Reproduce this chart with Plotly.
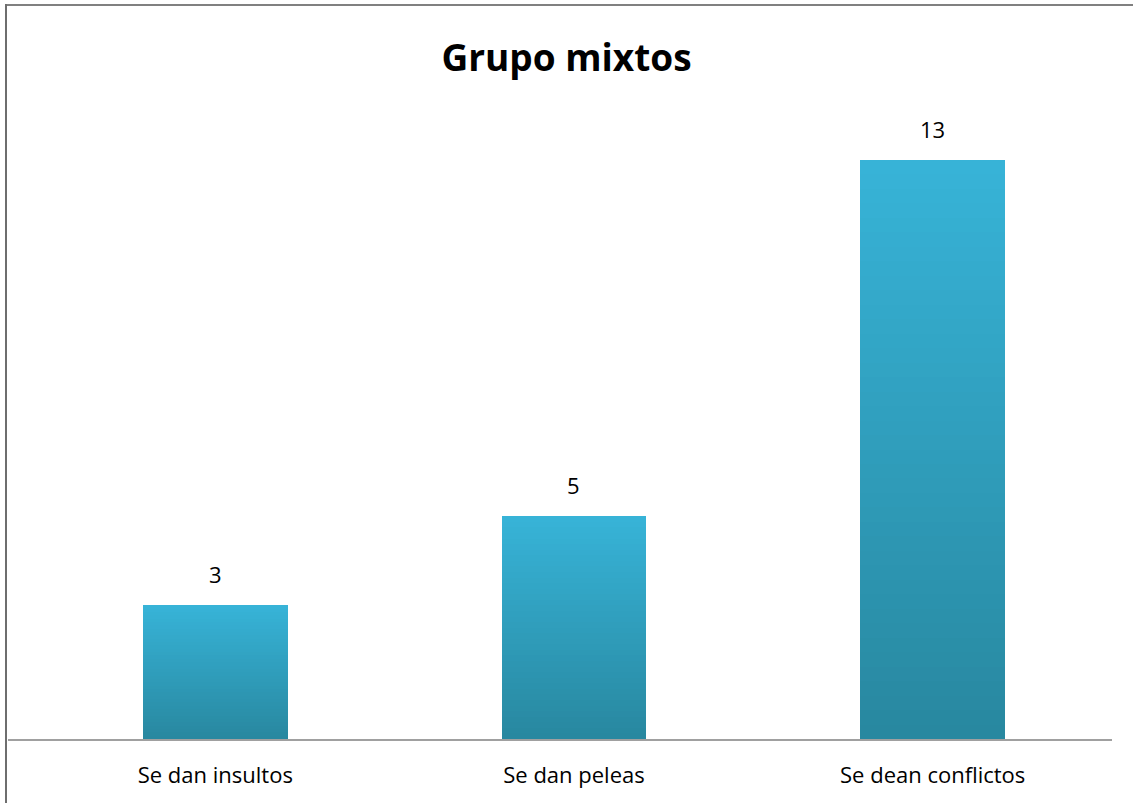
import plotly.graph_objects as go

categories = ["Se dan insultos", "Se dan peleas", "Se dean conflictos"]
values = [3, 5, 13]
title_text = "Grupo mixtos"

top_rgb = (55, 179, 215)
bottom_rgb = (40, 136, 160)
N = 40
FONT = "Open Sans, Lato, sans-serif"

fig = go.Figure()
for i in range(N):
    t = i / (N - 1)  # 0 bottom -> 1 top
    c = tuple(round(bottom_rgb[k] + (top_rgb[k] - bottom_rgb[k]) * t) for k in range(3))
    fig.add_trace(go.Bar(
        x=categories, y=[v / N for v in values],
        marker=dict(color=f"rgb{c}", line=dict(width=0)),
        width=0.404, showlegend=False, hoverinfo="skip",
    ))

annotations = [
    dict(x=cat, y=v, xref="x", yref="y", text=str(v), showarrow=False,
         yanchor="bottom", yshift=14, font=dict(size=22, color="#000000", family=FONT))
    for cat, v in zip(categories, values)
]

plot_top = 100
plot_bottom = 739
ph = plot_bottom - plot_top
px_per_unit = (739 - 160) / 13.0
ymax = ph / px_per_unit

fig.update_layout(
    width=1133, height=803,
    barmode="stack", bargap=0,
    paper_bgcolor="white", plot_bgcolor="white",
    margin=dict(l=8, r=21, t=plot_top, b=803 - plot_bottom, pad=0),
    title=dict(text="<b>" + title_text + "</b>", x=0.5, xanchor="center", y=1 - 58 / 803, yanchor="middle",
               font=dict(size=37, color="#000000", family=FONT)),
    xaxis=dict(type="category", range=[-0.578, 2.5], showgrid=False, showline=True, linecolor="#a0a0a0",
               linewidth=2, ticks="", ticklabelstandoff=16,
               tickfont=dict(size=22, color="#000000", family=FONT)),
    yaxis=dict(range=[0, ymax], visible=False, showgrid=False, zeroline=False),
    annotations=annotations,
    shapes=[
        dict(type="line", xref="paper", yref="paper", x0=(5 - 8) / 1104, x1=1.1, y0=(739 - 5) / ph, y1=(739 - 5) / ph,
             line=dict(color="#808080", width=2)),
        dict(type="line", xref="paper", yref="paper", x0=(6 - 8) / 1104, x1=(6 - 8) / 1104, y0=(739 - 4) / ph, y1=-0.2,
             line=dict(color="#6e6e6e", width=2)),
    ],
)

fig.write_html("out.html", config={"displayModeBar": False},
               post_script="document.body.style.margin='0';")
